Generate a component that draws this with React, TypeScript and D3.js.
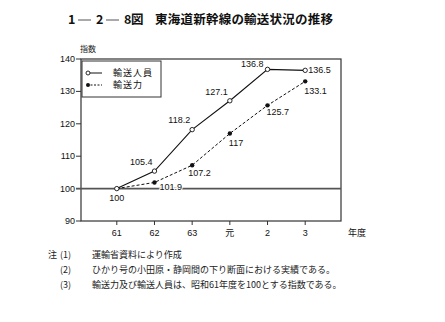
import React from "react";
import * as d3 from "d3";

const categories = ["61", "62", "63", "元", "2", "3"];
const passengers = [100, 105.4, 118.2, 127.1, 136.8, 136.5];
const capacity = [100, 101.9, 107.2, 117, 125.7, 133.1];
const yTicks = [90, 100, 110, 120, 130, 140];
const passengerLabels = ["100", "105.4", "118.2", "127.1", "136.8", "136.5"];
const capacityLabels = ["", "101.9", "107.2", "117", "125.7", "133.1"];
const seriesNames = ["輸送人員", "輸送力"];
const notes = [
  "運輸省資料により作成",
  "ひかり号の小田原・静岡間の下り断面における実績である。",
  "輸送力及び輸送人員は、昭和61年度を100とする指数である。",
];

// label offsets relative to point (dx, dy, anchor)
const pOff: [number, number, string][] = [
  [0, 12, "middle"],
  [-2, -6, "end"],
  [-2, -7, "end"],
  [-2, -6, "end"],
  [-4, -2, "end"],
  [3, 3, "start"],
];
const cOff: [number, number, string][] = [
  [0, 0, "middle"],
  [5, 8, "start"],
  [-4, 11, "start"],
  [-1, 12, "start"],
  [-1, 10, "start"],
  [-1, 13, "start"],
];

export default function App() {
  const W = 445, H = 322;
  const left = 81, right = 341, top = 59, bottom = 221;
  const x = d3.scaleLinear().domain([-0.95, 5.95]).range([left, right]);
  const y = d3.scaleLinear().domain([90, 140]).range([bottom, top]);
  const line = d3
    .line<number>()
    .x((_, i) => x(i))
    .y((d) => y(d));
  const numFont = "Liberation Sans, Arial, sans-serif";
  const jp = "Noto Sans CJK JP, sans-serif";

  return (
    <svg
      width={W}
      height={H}
      style={{ position: "absolute", left: 0, top: 0, background: "#fff" }}
    >
      {/* title */}
      <g fontFamily={jp} fontWeight="bold" fontSize={12.5} fill="#111">
        <text x={68} y={24}>1</text>
        <line x1={78} x2={91} y1={20} y2={20} stroke="#555" strokeWidth={1} />
        <text x={96} y={24}>2</text>
        <line x1={106} x2={119} y1={20} y2={20} stroke="#555" strokeWidth={1} />
        <text x={124} y={24}>8</text>
        <text x={131} y={24}>図</text>
        <text x={155} y={24} textLength={178} lengthAdjust="spacing">東海道新幹線の輸送状況の推移</text>
      </g>

      <text x={80} y={52} fontFamily={jp} fontSize={8} fill="#222">指数</text>

      {/* frame */}
      <rect
        x={left}
        y={top}
        width={right - left}
        height={bottom - top}
        fill="none"
        stroke="#333"
        strokeWidth={1.2}
      />

      {/* y ticks */}
      {yTicks.map((t) => (
        <g key={t}>
          <line x1={left - 5} x2={left} y1={y(t)} y2={y(t)} stroke="#333" strokeWidth={1} />
          <text
            x={left - 6}
            y={y(t) + 3}
            textAnchor="end"
            fontFamily={numFont}
            fontSize={9}
            fill="#111"
          >
            {t}
          </text>
        </g>
      ))}

      {/* x ticks */}
      {categories.map((c, i) => (
        <g key={c}>
          <line x1={x(i)} x2={x(i)} y1={bottom} y2={bottom + 4} stroke="#333" strokeWidth={1} />
          <text
            x={x(i)}
            y={bottom + 15}
            textAnchor="middle"
            fontFamily={c === "元" ? jp : numFont}
            fontSize={9}
            fill="#111"
          >
            {c}
          </text>
        </g>
      ))}
      <text x={348} y={236} fontFamily={jp} fontSize={9} fill="#111">年度</text>

      {/* 100 baseline */}
      <line x1={left - 5} x2={right} y1={y(100)} y2={y(100)} stroke="#555" strokeWidth={1.6} />

      {/* capacity series */}
      <path d={line(capacity) || ""} fill="none" stroke="#111" strokeWidth={1} strokeDasharray="3,2" />
      {/* passenger series */}
      <path d={line(passengers) || ""} fill="none" stroke="#111" strokeWidth={1.1} />

      {capacity.map((v, i) =>
        i === 0 ? null : <circle key={"c" + i} cx={x(i)} cy={y(v)} r={2.2} fill="#111" />
      )}
      {passengers.map((v, i) => (
        <circle key={"p" + i} cx={x(i)} cy={y(v)} r={2.2} fill="#fff" stroke="#111" strokeWidth={0.9} />
      ))}

      {/* labels */}
      <g fontFamily={numFont} fontSize={9} fill="#111" style={{ paintOrder: "stroke" }}>
        {passengerLabels.map((l, i) => (
          <text
            key={"pl" + i}
            x={x(i) + pOff[i][0]}
            y={y(passengers[i]) + pOff[i][1]}
            textAnchor={pOff[i][2] as any}
            stroke="#fff"
            strokeWidth={2}
          >
            {l}
          </text>
        ))}
        {capacityLabels.map((l, i) =>
          l ? (
            <text
              key={"cl" + i}
              x={x(i) + cOff[i][0]}
              y={y(capacity[i]) + cOff[i][1]}
              textAnchor={cOff[i][2] as any}
              stroke="#fff"
              strokeWidth={2}
            >
              {l}
            </text>
          ) : null
        )}
      </g>

      {/* legend */}
      <rect x={82} y={61} width={79} height={36} fill="#fff" stroke="#333" strokeWidth={1} />
      <line x1={87} x2={102} y1={73} y2={73} stroke="#111" strokeWidth={1} />
      <circle cx={88} cy={73} r={2} fill="#fff" stroke="#111" strokeWidth={0.9} />
      <line x1={87} x2={102} y1={85} y2={85} stroke="#111" strokeWidth={1} strokeDasharray="2,1.5" />
      <circle cx={88} cy={85} r={2} fill="#111" />
      <g fontFamily={jp} fontSize={9} fill="#111" letterSpacing={1}>
        <text x={113} y={76}>{seriesNames[0]}</text>
        <text x={113} y={88}>{seriesNames[1]}</text>
      </g>

      {/* notes */}
      <g fontFamily={jp} fontSize={9} fill="#222">
        <text x={48} y={258}>注</text>
        {notes.map((n, i) => (
          <g key={i}>
            <text x={60} y={258 + i * 15}>({i + 1})</text>
            <text x={92} y={258 + i * 15}>{n}</text>
          </g>
        ))}
      </g>
    </svg>
  );
}
